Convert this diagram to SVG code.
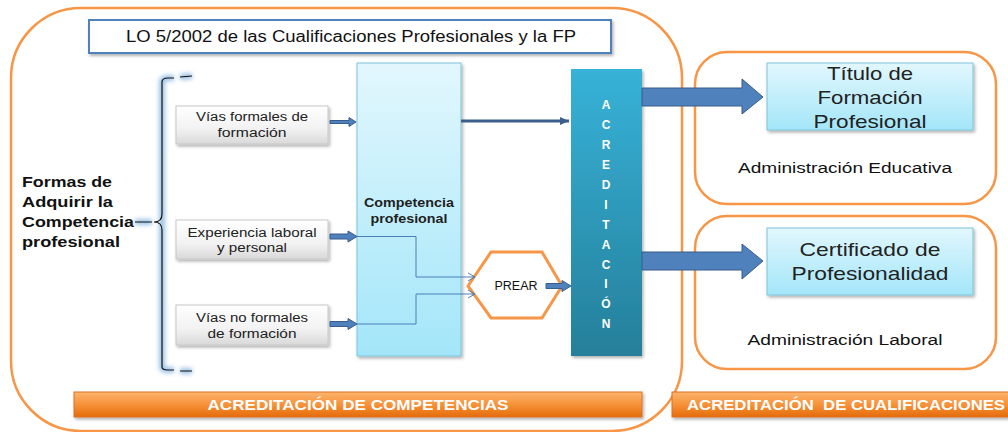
<svg xmlns="http://www.w3.org/2000/svg" width="1008" height="432" viewBox="0 0 1008 432">
<defs>
<linearGradient id="gCol" x1="0" y1="0" x2="0" y2="1"><stop offset="0" stop-color="#e2f7fd"/><stop offset="1" stop-color="#a3e6f9"/></linearGradient>
<linearGradient id="gAcr" x1="0" y1="0" x2="0" y2="1"><stop offset="0" stop-color="#37b2d8"/><stop offset="1" stop-color="#257f9a"/></linearGradient>
<linearGradient id="gGray" x1="0" y1="0" x2="0" y2="1"><stop offset="0" stop-color="#ffffff"/><stop offset="0.6" stop-color="#f2f2f2"/><stop offset="1" stop-color="#d9d9d9"/></linearGradient>
<linearGradient id="gOr" x1="0" y1="0" x2="0" y2="1"><stop offset="0" stop-color="#fbb56e"/><stop offset="0.5" stop-color="#f7923a"/><stop offset="1" stop-color="#e46c0a"/></linearGradient>
<filter id="sh" x="-10%" y="-10%" width="130%" height="140%"><feDropShadow dx="1.5" dy="2" stdDeviation="1.5" flood-color="#000" flood-opacity="0.3"/></filter>
<filter id="glow" x="-50%" y="-10%" width="200%" height="120%"><feGaussianBlur stdDeviation="2"/></filter>
<marker id="open" markerWidth="10" markerHeight="10" refX="8" refY="5" orient="auto" markerUnits="userSpaceOnUse"><path d="M1 1 L8 5 L1 9" fill="none" stroke="#4a7ebb" stroke-width="1"/></marker>
<marker id="solid" markerWidth="10" markerHeight="10" refX="9" refY="5" orient="auto" markerUnits="userSpaceOnUse"><path d="M0 1 L9 5 L0 9 Z" fill="#3b5e8c"/></marker>
</defs>
<style>
text{font-family:"Liberation Sans",Arial,sans-serif;}
.frame{fill:#fff;stroke:#f79646;stroke-width:2.5;}
.gray{fill:url(#gGray);stroke:#c8c8c8;stroke-width:1;filter:url(#sh);}
.t12{font-size:12.5px;fill:#222;text-anchor:middle;}
.big{font-size:19px;fill:#222;text-anchor:middle;}
.adm{font-size:14px;fill:#111;text-anchor:middle;}
.let{font-size:12px;font-weight:bold;fill:#fff;text-anchor:middle;}
.frm{font-size:15px;font-weight:bold;fill:#111;}
.blk{fill:#4f81bd;stroke:#385d8a;stroke-width:1;}
.bar{fill:url(#gOr);stroke:#e07020;stroke-width:1;filter:url(#sh);}
.bart{font-size:14px;font-weight:bold;fill:#fff;}
.thin{fill:none;stroke:#4a7ebb;stroke-width:1;}
</style>

<g id="frame-main"><rect class="frame" x="11" y="8" width="671" height="423" rx="70"/></g>
<g id="frame-educ"><rect class="frame" x="695" y="52" width="301" height="152" rx="32"/></g>
<g id="frame-lab"><rect class="frame" x="695" y="216" width="301" height="153" rx="32"/></g>

<g id="title"><rect x="89" y="20" width="522" height="33" fill="#fff" stroke="#4f81bd" stroke-width="2" filter="url(#sh)"/>
<text x="126" y="42" font-size="16" fill="#111" textLength="450" lengthAdjust="spacingAndGlyphs">LO 5/2002 de las Cualificaciones Profesionales y la FP</text></g>

<g id="formas">
<text class="frm" x="22" y="187" textLength="90" lengthAdjust="spacingAndGlyphs">Formas de</text>
<text class="frm" x="22" y="207" textLength="91" lengthAdjust="spacingAndGlyphs">Adquirir la</text>
<text class="frm" x="22" y="227" textLength="112" lengthAdjust="spacingAndGlyphs">Competencia</text>
<text class="frm" x="22" y="247" textLength="98" lengthAdjust="spacingAndGlyphs">profesional</text>
</g>

<g id="brace">
<path d="M162 367 L162 82 Q162 78 168 78 L174 78 M180 77 L192 76 M162 367 Q162 370 168 370 L174 370 M180 371 L192 371 M135 222 L152 222" fill="none" stroke="#9dc3e6" stroke-width="6" filter="url(#glow)"/>
<path d="M162 82 Q162 78 168 78 L174 78 M180 77 L192 76 M162 214 L162 82 M162 230 L162 367 Q162 370 168 370 L174 370 M180 371 L192 371 M162 214 Q162 222 154 222 Q162 222 162 230 M135 222 L152 222" fill="none" stroke="#111" stroke-width="1.2"/>
</g>

<g id="via-formal"><rect class="gray" x="176" y="106" width="152" height="38"/>
<text class="t12" x="252" y="121" textLength="112" lengthAdjust="spacingAndGlyphs">Vías formales de</text>
<text class="t12" x="252" y="137" textLength="69" lengthAdjust="spacingAndGlyphs">formación</text></g>
<g id="experiencia"><rect class="gray" x="176" y="220" width="152" height="39"/>
<text class="t12" x="252" y="237" textLength="129" lengthAdjust="spacingAndGlyphs">Experiencia laboral</text>
<text class="t12" x="252" y="252" textLength="70" lengthAdjust="spacingAndGlyphs">y personal</text></g>
<g id="via-noformal"><rect class="gray" x="176" y="305" width="152" height="40"/>
<text class="t12" x="252" y="322" textLength="112" lengthAdjust="spacingAndGlyphs">Vías no formales</text>
<text class="t12" x="252" y="338" textLength="89" lengthAdjust="spacingAndGlyphs">de formación</text></g>

<g id="competencia"><rect x="357" y="63" width="104" height="293" fill="url(#gCol)" stroke="#7cc4da" stroke-width="1" filter="url(#sh)"/>
<text x="409" y="207" font-size="12" font-weight="bold" fill="#1f1f1f" text-anchor="middle" textLength="90" lengthAdjust="spacingAndGlyphs">Competencia</text>
<text x="409" y="223" font-size="12" font-weight="bold" fill="#1f1f1f" text-anchor="middle" textLength="77" lengthAdjust="spacingAndGlyphs">profesional</text></g>

<g id="acreditacion"><rect x="571" y="69" width="71" height="287" fill="url(#gAcr)" filter="url(#sh)"/>
<text class="let"><tspan x="606" y="109">A</tspan><tspan x="606" y="129">C</tspan><tspan x="606" y="149">R</tspan><tspan x="606" y="169">E</tspan><tspan x="606" y="189">D</tspan><tspan x="606" y="209">I</tspan><tspan x="606" y="229">T</tspan><tspan x="606" y="249">A</tspan><tspan x="606" y="269">C</tspan><tspan x="606" y="288">I</tspan><tspan x="606" y="308">Ó</tspan><tspan x="606" y="328">N</tspan></text></g>

<g id="prear"><polygon points="468,286 491,252 542,252 562,286 542,318 491,318" fill="#fff" stroke="#f79646" stroke-width="3"/>
<text x="516" y="290" font-size="12" fill="#111" text-anchor="middle" textLength="43" lengthAdjust="spacingAndGlyphs">PREAR</text></g>

<g id="titulo"><rect x="767" y="63" width="206" height="67" fill="url(#gCol)" stroke="#7cc4da" stroke-width="1" filter="url(#sh)"/>
<text class="big" x="870" y="80" textLength="86" lengthAdjust="spacingAndGlyphs">Título de</text>
<text class="big" x="870" y="104" textLength="105" lengthAdjust="spacingAndGlyphs">Formación</text>
<text class="big" x="870" y="128" textLength="113" lengthAdjust="spacingAndGlyphs">Profesional</text>
<text class="adm" x="845" y="173" textLength="214" lengthAdjust="spacingAndGlyphs">Administración Educativa</text></g>

<g id="certificado"><rect x="767" y="228" width="206" height="67" fill="url(#gCol)" stroke="#7cc4da" stroke-width="1" filter="url(#sh)"/>
<text class="big" x="870" y="256" textLength="141" lengthAdjust="spacingAndGlyphs">Certificado de</text>
<text class="big" x="870" y="280" textLength="157" lengthAdjust="spacingAndGlyphs">Profesionalidad</text>
<text class="adm" x="845" y="345" textLength="195" lengthAdjust="spacingAndGlyphs">Administración Laboral</text></g>

<g id="bar-comp"><rect class="bar" x="74" y="392" width="568" height="25"/><text class="bart" x="358" y="410" text-anchor="middle" textLength="301" lengthAdjust="spacingAndGlyphs">ACREDITACIÓN DE COMPETENCIAS</text></g>
<g id="bar-cual"><rect class="bar" x="672" y="392" width="340" height="25"/><text class="bart" x="687" y="410" xml:space="preserve" textLength="318" lengthAdjust="spacingAndGlyphs">ACREDITACIÓN  DE CUALIFICACIONES</text></g>

<g id="connectors">
<path class="blk" d="M330 120.5 L349 120.5 L349 117.5 L356 122 L349 126.5 L349 123.5 L330 123.5 Z"/>
<path class="blk" d="M330 234 L348 234 L348 231 L357 236.5 L348 242 L348 239 L330 239 Z"/>
<path class="blk" d="M330 321.5 L348 321.5 L348 318.5 L357 324 L348 329.5 L348 326.5 L330 326.5 Z"/>
<line x1="461" y1="121" x2="569" y2="121" stroke="#3b5e8c" stroke-width="3" marker-end="url(#solid)"/>
<path class="thin" d="M357 236.5 L416 236.5 L416 277 L475 277" marker-end="url(#open)"/>
<path class="thin" d="M357 324 L416 324 L416 294 L475 294" marker-end="url(#open)"/>
<path class="blk" d="M546 283.5 L562 283.5 L562 280.5 L571 286 L562 291.5 L562 288.5 L546 288.5 Z"/>
<path class="blk" stroke-width="1.5" d="M642 88 L742 88 L742 79 L763 97 L742 114 L742 106 L642 106 Z"/>
<path class="blk" stroke-width="1.5" d="M642 252 L742 252 L742 244 L763 261 L742 279 L742 270 L642 270 Z"/>
</g>
</svg>
